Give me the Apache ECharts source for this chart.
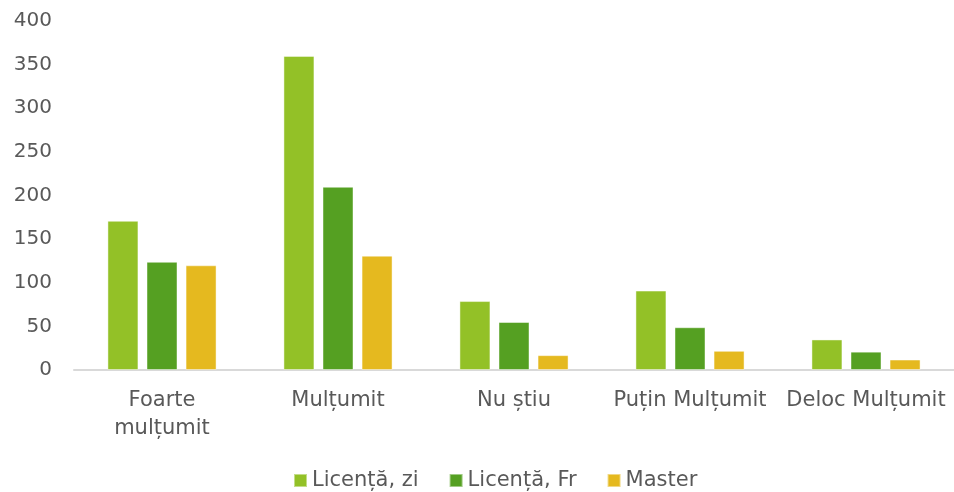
<!DOCTYPE html>
<html>
<head>
<meta charset="utf-8">
<script src="https://cdn.jsdelivr.net/npm/echarts@6/dist/echarts.min.js"></script>
<style>
  html, body { margin: 0; padding: 0; background: #fff; }
  #chart { width: 954px; height: 492px; }
</style>
</head>
<body>
<div id="chart"></div>
<script>
const categories = ['Foarte\nmulțumit', 'Mulțumit', 'Nu știu', 'Puțin Mulțumit', 'Deloc Mulțumit'];
const licentaZi = [171, 360, 79, 91, 35];
const licentaFr = [124, 210, 55, 49, 21];
const master = [120, 131, 17, 22, 12];

const textColor = '#595959';

let chart = echarts.init(document.getElementById('chart'));

let barStyle = (color) => ({
  color: color,
  borderColor: 'rgba(255,255,255,0.45)',
  borderWidth: 1
});

chart.setOption({
  animation: false,
  grid: {
    left: 74,
    right: 0,
    top: 21,
    bottom: 122,
    containLabel: false,
    outerBoundsMode: 'none'
  },
  legend: {
    left: 293,
    top: 470,
    padding: 0,
    icon: 'rect',
    itemWidth: 13,
    itemHeight: 13,
    itemGap: 30,
    textStyle: {
      color: textColor,
      fontSize: 21,
      fontFamily: 'DejaVu Sans'
    },
    data: ['Licență, zi', 'Licență, Fr', 'Master']
  },
  xAxis: {
    type: 'category',
    data: categories,
    axisTick: { show: false },
    axisLine: { lineStyle: { color: '#d9d9d9', width: 2 } },
    axisLabel: {
      color: textColor,
      fontSize: 21,
      lineHeight: 28,
      margin: 17,
      fontFamily: 'DejaVu Sans',
      interval: 0
    }
  },
  yAxis: {
    type: 'value',
    min: 0,
    max: 400,
    interval: 50,
    splitLine: { show: false },
    axisLine: { show: false },
    axisTick: { show: false },
    axisLabel: {
      color: textColor,
      fontSize: 20,
      margin: 22,
      fontFamily: 'DejaVu Sans'
    }
  },
  series: [
    {
      name: 'Licență, zi',
      type: 'bar',
      barWidth: 31,
      barGap: '26%',
      itemStyle: barStyle('#93c127'),
      data: licentaZi
    },
    {
      name: 'Licență, Fr',
      type: 'bar',
      barWidth: 31,
      barGap: '26%',
      itemStyle: barStyle('#55a022'),
      data: licentaFr
    },
    {
      name: 'Master',
      type: 'bar',
      barWidth: 31,
      barGap: '26%',
      itemStyle: barStyle('#e5b91f'),
      data: master
    }
  ]
});
</script>
</body>
</html>
